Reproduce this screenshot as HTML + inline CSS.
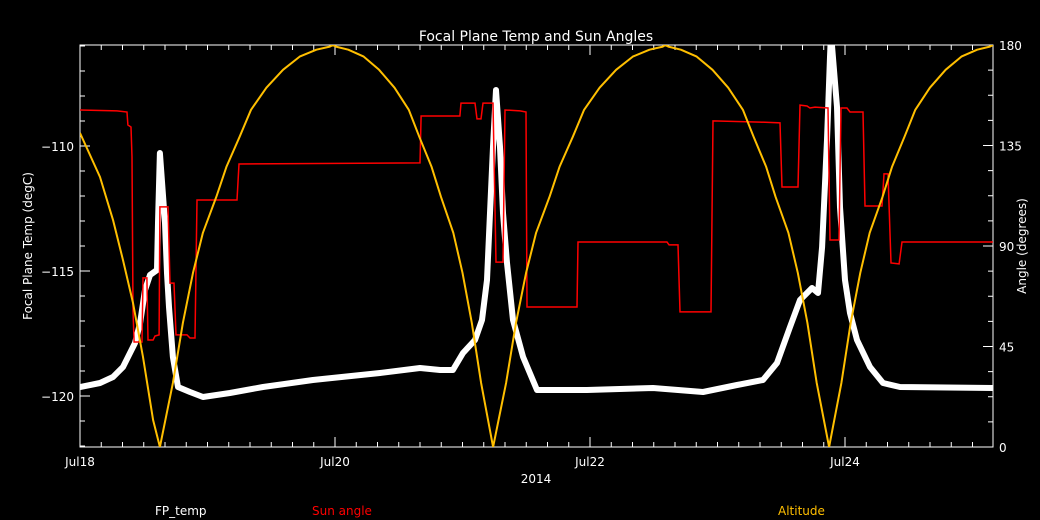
<!DOCTYPE html>
<html><head><meta charset="utf-8"><style>
html,body{margin:0;padding:0;background:#000;}
svg{display:block;font-family:"DejaVu Sans","Liberation Sans",sans-serif;}
</style></head><body>
<svg id="chart" width="1040" height="520" xmlns="http://www.w3.org/2000/svg">
<rect width="1040" height="520" fill="#000"/>
<g id="g"></g>
</svg>
<script>
// ---- data (t = days since Jul18 00:00) ----
const xTickLabels = ["Jul18","Jul20","Jul22","Jul24"];
const xTickDays = [0,2,4,6];
const leftTicks = [-110,-115,-120];
const rightTicks = [0,45,90,135,180];
const altT = [0,.157,.259,.337,.416,.494,.573,.627,
 .729,.807,.886,.964,1.069,1.148,1.252,1.341,1.462,1.592,1.723,1.854,1.959,1.984,
 2.007,2.104,2.225,2.346,2.467,2.579,2.661,2.758,2.831,2.928,3.0,3.073,3.146,3.24,
 3.342,3.42,3.499,3.577,3.682,3.761,3.865,3.954,4.075,4.205,4.336,4.467,4.572,4.59,
 4.614,4.713,4.837,4.961,5.084,5.199,5.283,5.382,5.456,5.556,5.63,5.705,5.778,5.875,
 5.972,6.045,6.12,6.194,6.294,6.369,6.467,6.551,6.666,6.789,6.913,7.037,7.136,7.16];
const altV = [140.6,120.9,101.7,83.7,64.5,40.3,12.1,0,
 28.7,55.6,78,95.9,112,125.4,138.9,151,160.9,168.9,174.8,177.9,179.3,180,
 179.3,177.9,174.8,168.9,160.9,151,138.9,125.4,112,95.9,78,55.6,28.7,0,
 28.7,55.6,78,95.9,112,125.4,138.9,151,160.9,168.9,174.8,177.9,179.3,180,
 179.3,177.9,174.8,168.9,160.9,151,138.9,125.4,112,95.9,78,55.6,28.7,0,
 28.7,55.6,78,95.9,112,125.4,138.9,151,160.9,168.9,174.8,177.9,179.3,180];
const sunT = [0,.290,.369,.376,.400,.408,.416,.424,.486,.494,.525,.533,.573,.588,.620,.627,.690,.706,.737,.753,.839,.863,.902,.918,1.231,1.247,2.667,2.675,2.980,2.988,3.098,3.114,3.145,3.161,3.239,3.263,3.318,3.333,3.451,3.498,3.506,3.898,3.906,4.604,4.620,4.690,4.706,4.949,4.965,5.333,5.490,5.506,5.631,5.647,5.702,5.725,5.765,5.867,5.882,5.953,5.969,6.016,6.039,6.141,6.157,6.290,6.306,6.337,6.361,6.424,6.447,7.16];
const sunV = [150.9,150.5,150.0,144.2,143.3,129.9,61.3,47.0,47.0,75.7,75.7,47.9,47.9,49.7,50.2,107.5,107.5,73.4,73.4,50.2,50.2,48.8,48.8,110.6,110.6,126.7,127.2,148.2,148.2,154.0,154.0,146.9,146.9,154.0,154.0,82.8,82.8,150.9,150.5,150.0,62.7,62.7,91.8,91.8,90.5,90.5,60.5,60.5,146.0,145.5,145.1,116.4,116.4,153.1,152.7,151.8,152.2,151.8,92.7,92.7,151.8,151.8,150.0,150.0,107.9,107.9,122.3,122.3,82.4,82.0,91.8,91.8];
const fpT = [0,.157,.259,.337,.392,.431,.471,.510,.549,.604,.612,.627,.667,.682,.698,.729,.769,.863,.965,1.176,1.435,1.827,2.353,2.667,2.824,2.925,3.004,3.098,3.153,3.192,3.216,3.239,3.263,3.294,3.318,3.349,3.396,3.475,3.584,3.976,4.494,4.886,5.153,5.357,5.467,5.569,5.647,5.741,5.788,5.820,5.859,5.882,5.89,5.937,5.961,6.0,6.039,6.094,6.196,6.298,6.431,7.161];
const fpV = [-119.64,-119.48,-119.24,-118.84,-118.28,-117.88,-117.08,-115.76,-115.16,-114.96,-113.08,-110.28,-113.08,-115.08,-116.44,-118.44,-119.64,-119.84,-120.04,-119.88,-119.64,-119.36,-119.08,-118.88,-118.96,-118.96,-118.28,-117.76,-116.96,-115.36,-112.68,-110.04,-107.76,-110.04,-112.68,-114.68,-116.96,-118.44,-119.76,-119.76,-119.68,-119.84,-119.56,-119.36,-118.68,-117.24,-116.16,-115.68,-115.88,-114.04,-109.76,-106.44,-105.5,-108.44,-112.44,-115.36,-116.68,-117.76,-118.84,-119.48,-119.64,-119.68];

const L=80,R=993,T=45,B=447;
const xs=t=>L+t*127.5;
const yl=v=>146+(-110-v)*25;
const yr=v=>B-v*(B-T)/180;
const NS="http://www.w3.org/2000/svg";
const g=document.getElementById('g');
function el(tag,attrs,parent){const e=document.createElementNS(NS,tag);for(const k in attrs)e.setAttribute(k,attrs[k]);(parent||g).appendChild(e);return e;}
function txt(x,y,s,fill,size,anchor,rot){const e=el('text',{x:x,y:y,fill:fill,'font-size':size,'text-anchor':anchor||'middle'});if(rot)e.setAttribute('transform','rotate(-90 '+x+' '+y+')');e.textContent=s;return e;}

const clip=el('clipPath',{id:'pc'});el('rect',{x:L,y:T,width:R-L,height:B-T},clip);

const box=el('rect',{x:L,y:T,width:R-L,height:B-T,fill:'none',stroke:'#fff','stroke-width':1});



for(let i=0;i<=43;i++){const x=xs(i/6);if(x>R)break;const major=i%12==0;const len=major?10:5;
 el('line',{x1:x,y1:B,x2:x,y2:B-len,stroke:'#fff'});el('line',{x1:x,y1:T,x2:x,y2:T+len,stroke:'#fff'});}
xTickDays.forEach((d,i)=>{const t=txt(xs(d),466,xTickLabels[i],'#fff',12);
 
 });
for(let v=-122;v<=-106;v++){const y=yl(v);const major=v%5==0;el('line',{x1:L,y1:y,x2:L+(major?10:5),y2:y,stroke:'#fff'});}
leftTicks.forEach(v=>{const t=txt(L-6,yl(v)+5,String(v).replace('-','\u2212'),'#fff',12,'end');
 
 });
for(let i=0;i<=16;i++){const y=yr(i*11.25);const major=i%4==0;el('line',{x1:R,y1:y,x2:R-(major?10:5),y2:y,stroke:'#fff'});}
rightTicks.forEach(v=>{const t=txt(R+6,yr(v)+5,String(v),'#fff',12,'start');
 
 });

function pts(T_,V_,f){return T_.map((t,i)=>xs(t).toFixed(1)+','+f(V_[i]).toFixed(1)).join(' ');}
const fp=el('polyline',{points:pts(fpT,fpV,yl),fill:'none',stroke:'#fff','stroke-width':6,'stroke-linejoin':'round','clip-path':'url(#pc)'});


const sun=el('polyline',{points:pts(sunT,sunV,yr),fill:'none',stroke:'#ff0000','stroke-width':1.5,'clip-path':'url(#pc)'});


const alt=el('polyline',{points:pts(altT,altV,yr),fill:'none',stroke:'#ffbf00','stroke-width':2,'stroke-linejoin':'round','clip-path':'url(#pc)'});



let t;
t=txt(536,41,'Focal Plane Temp and Sun Angles','#fff',14);


t=txt(536,483,'2014','#fff',12);


t=txt(32,246,'Focal Plane Temp (degC)','#fff',12,'middle',true);


t=txt(1026,246,'Angle (degrees)','#fff',12,'middle',true);


t=txt(155,515,'FP_temp','#fff',12,'start');


t=txt(312,515,'Sun angle','#ff0000',12,'start');


t=txt(778,515,'Altitude','#ffbf00',12,'start');


</script>
</body></html>
